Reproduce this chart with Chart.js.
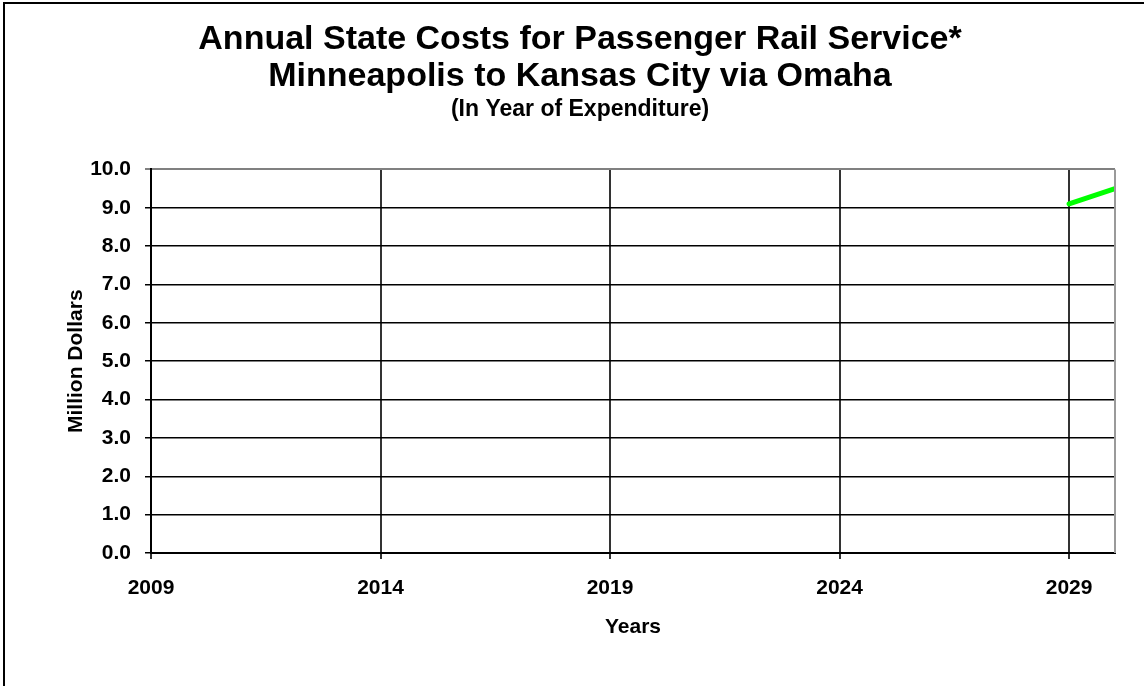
<!DOCTYPE html>
<html lang="en">
<head>
  <meta charset="UTF-8">
  <title>Annual State Costs for Passenger Rail Service</title>
  <script src="https://cdn.jsdelivr.net/npm/chart.js"></script>
  <style>
    html, body {
      margin: 0;
      padding: 0;
      background: #fff;
    }

    .wrap {
      position: relative;
      width: 1144px;
      height: 686px;
    }

    .frame {
      position: absolute;
      left: 3px;
      top: 2px;
      right: 0;
      bottom: 0;
      border-left: 2px solid #000;
      border-top: 2px solid #000;
      pointer-events: none;
    }
  </style>
</head>
<body>
  <div class="wrap">
    <canvas id="costChart" width="1144" height="686"></canvas>
    <div class="frame"></div>
  </div>

  <script>
    const titleLines = ['Annual State Costs for Passenger Rail Service*', 'Minneapolis to Kansas City via Omaha'];
    const subTitle = '(In Year of Expenditure)';

    const years = [2029, 2030];             // years with a cost value
    const costs = [9.1, 9.5];               // million dollars
    const yearTicks = [2009, 2014, 2019, 2024, 2029];
    const yearMin = 2009;
    const yearMax = 2030;
    const costMin = 0;
    const costMax = 10;
    const costStep = 1;

    const font = 'Liberation Sans, Arial, sans-serif';

    // gray right-hand edge of the plot area
    const plotFrame = {
      id: 'plotFrame',
      afterDatasetsDraw(chart) {
        const { ctx, chartArea } = chart;
        ctx.save();
        ctx.strokeStyle = '#9a9a9a';
        ctx.lineWidth = 2;
        ctx.beginPath();
        ctx.moveTo(chartArea.right, chartArea.top);
        ctx.lineTo(chartArea.right, chartArea.bottom);
        ctx.stroke();
        ctx.restore();
      }
    };

    const ctx = document.getElementById('costChart').getContext('2d');
    const costChart = new Chart(ctx, {
      type: 'line',
      data: {
        datasets: [{
          label: 'State cost',
          data: years.map((y, i) => ({ x: y, y: costs[i] })),
          borderColor: '#00ff00',
          borderWidth: 5,
          borderCapStyle: 'round',
          pointRadius: 0,
          tension: 0
        }]
      },
      options: {
        responsive: false,
        animation: false,
        devicePixelRatio: 1,
        layout: {
          padding: { left: 16, right: 0, top: 0, bottom: 0 }
        },
        plugins: {
          legend: { display: false },
          tooltip: { enabled: false },
          title: {
            display: true,
            text: titleLines,
            color: '#000',
            font: { family: font, size: 34, weight: 'bold', lineHeight: 1.1 },
            padding: { top: 21, bottom: 0 }
          },
          subtitle: {
            display: true,
            text: subTitle,
            color: '#000',
            font: { family: font, size: 23, weight: 'bold', lineHeight: 1.2 },
            padding: { top: 0, bottom: 46 }
          }
        },
        scales: {
          x: {
            type: 'linear',
            min: yearMin,
            max: yearMax,
            afterBuildTicks(scale) {
              scale.ticks = yearTicks.map(v => ({ value: v }));
            },
            afterFit(scale) {
              scale.height = 133;
            },
            ticks: {
              color: '#000',
              font: { family: font, size: 21, weight: 'bold' },
              padding: 17,
              maxRotation: 0,
              callback: v => String(v)
            },
            grid: {
              color: '#333',
              lineWidth: 2,
              tickLength: 6
            },
            border: { color: '#000', width: 2 },
            title: {
              display: true,
              text: 'Years',
              color: '#000',
              font: { family: font, size: 21, weight: 'bold' },
              padding: { top: 0, bottom: 46 }
            }
          },
          y: {
            min: costMin,
            max: costMax,
            afterFit(scale) {
              scale.width = 135;
            },
            ticks: {
              stepSize: costStep,
              color: '#000',
              font: { family: font, size: 21, weight: 'bold' },
              padding: 14,
              callback: v => v.toFixed(1)
            },
            grid: {
              color: c => (c.tick && c.tick.value === costMax) ? '#808080' : '#000',
              lineWidth: c => (c.tick && c.tick.value === costMax) ? 2 : 1.5,
              tickLength: 6
            },
            border: { color: '#000', width: 2 },
            title: {
              display: true,
              text: 'Million Dollars',
              color: '#000',
              font: { family: font, size: 21, weight: 'bold' },
              padding: { top: 48, bottom: 0 }
            }
          },
          // empty right-hand margin so the title centres like the reference
          yRight: {
            position: 'right',
            min: costMin,
            max: costMax,
            afterFit(scale) {
              scale.width = 29;
            },
            ticks: { display: false },
            grid: { display: false },
            border: { display: false }
          }
        }
      },
      plugins: [plotFrame]
    });
  </script>
</body>
</html>
